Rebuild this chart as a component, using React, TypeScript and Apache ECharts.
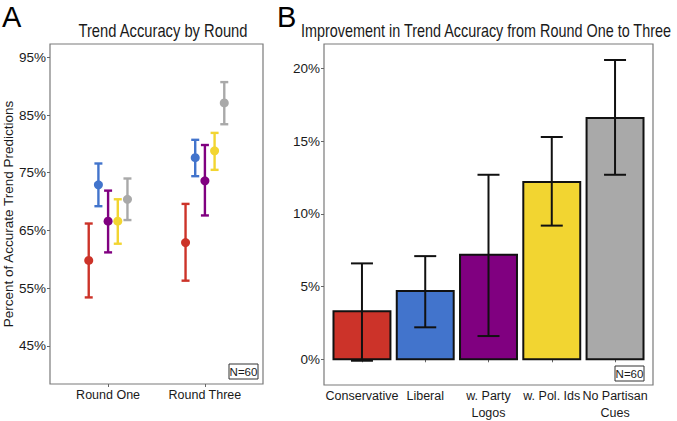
import React, { useEffect, useRef } from "react";
import * as echarts from "echarts";

const groups = ["Conservative", "Liberal", "w. Party Logos", "w. Pol. Ids", "No Partisan Cues"];
const groupLabelsB = ["Conservative", "Liberal", "w. Party\nLogos", "w. Pol. Ids", "No Partisan\nCues"];
const rounds = ["Round One", "Round Three"];
const colors = ["#CC3329", "#4274CC", "#800080", "#F2D531", "#A9A9A9"];

// Panel A: accuracy by round (per group: [Round One, Round Three])
const accMean = [
  [59.8, 62.9],
  [72.9, 77.6],
  [66.6, 73.6],
  [66.6, 78.8],
  [70.4, 87.1],
];
const accLow = [
  [53.4, 56.3],
  [69.2, 74.4],
  [61.2, 67.6],
  [62.7, 75.5],
  [66.8, 83.4],
];
const accHigh = [
  [66.2, 69.6],
  [76.6, 80.7],
  [71.9, 79.8],
  [70.4, 81.9],
  [74.0, 90.7],
];

// Panel B: improvement
const impMean = [3.3, 4.7, 7.2, 12.2, 16.6];
const impLow = [-0.1, 2.2, 1.6, 9.2, 12.7];
const impHigh = [6.6, 7.1, 12.7, 15.3, 20.6];

const ticksA = [45, 55, 65, 75, 85, 95];
const ticksB = [0, 5, 10, 15, 20];

const dodge = [-0.2, -0.1, 0, 0.1, 0.2];
const FONT = "'Liberation Sans',Arial,sans-serif";
const TXT = "#1a1a1a";

export default function App() {
  const ref = useRef<HTMLDivElement>(null);
  useEffect(() => {
    if (!ref.current) return;
    const chart = echarts.init(ref.current, null, { renderer: "svg" });

    const series: any[] = [];
    groups.forEach((g, i) => {
      series.push({
        type: "custom",
        name: g + " err",
        xAxisIndex: 0,
        yAxisIndex: 0,
        data: rounds.map((_, r) => [r + 1 + dodge[i], accLow[i][r], accHigh[i][r]]),
        encode: { x: 0, y: [1, 2] },
        renderItem: (params: any, api: any) => {
          const x = api.value(0);
          const lo = api.coord([x, api.value(1)]);
          const hi = api.coord([x, api.value(2)]);
          const hw = 4;
          const st = { stroke: colors[i], lineWidth: 2.4 };
          return {
            type: "group",
            children: [
              { type: "line", shape: { x1: lo[0], y1: lo[1], x2: hi[0], y2: hi[1] }, style: st },
              { type: "line", shape: { x1: lo[0] - hw, y1: lo[1], x2: lo[0] + hw, y2: lo[1] }, style: st },
              { type: "line", shape: { x1: hi[0] - hw, y1: hi[1], x2: hi[0] + hw, y2: hi[1] }, style: st },
            ],
          };
        },
        z: 2,
      });
      series.push({
        type: "scatter",
        name: g,
        xAxisIndex: 0,
        yAxisIndex: 0,
        data: rounds.map((_, r) => [r + 1 + dodge[i], accMean[i][r]]),
        symbolSize: 9,
        itemStyle: { color: colors[i], opacity: 1 },
        z: 3,
      });
    });

    series.push({
      type: "custom",
      name: "bars",
      xAxisIndex: 1,
      yAxisIndex: 1,
      data: groups.map((_, i) => [i + 1, impMean[i], impLow[i], impHigh[i]]),
      encode: { x: 0, y: [1, 2, 3] },
      renderItem: (params: any, api: any) => {
        const x = api.value(0);
        const i = params.dataIndex;
        const tl = api.coord([x - 0.45, api.value(1)]);
        const br = api.coord([x + 0.45, 0]);
        const lo = api.coord([x, api.value(2)]);
        const hi = api.coord([x, api.value(3)]);
        const hw = 11;
        const st = { stroke: "#111", lineWidth: 2 };
        return {
          type: "group",
          children: [
            {
              type: "rect",
              shape: { x: tl[0], y: tl[1], width: br[0] - tl[0], height: br[1] - tl[1] },
              style: { fill: colors[i], stroke: "#111", lineWidth: 2 },
            },
            { type: "line", shape: { x1: lo[0], y1: lo[1], x2: hi[0], y2: hi[1] }, style: st },
            { type: "line", shape: { x1: lo[0] - hw, y1: lo[1], x2: lo[0] + hw, y2: lo[1] }, style: st },
            { type: "line", shape: { x1: hi[0] - hw, y1: hi[1], x2: hi[0] + hw, y2: hi[1] }, style: st },
          ],
        };
      },
    });

    const axisTick = { show: true, length: 3, lineStyle: { color: "#666", width: 1 } };
    const xLabelBase = {
      color: TXT,
      fontFamily: FONT,
      fontSize: 12.5,
      lineHeight: 16.5,
      margin: 3,
      hideOverlap: false,
      showMinLabel: true,
      showMaxLabel: true,
      interval: 0,
    };

    chart.setOption({
      animation: false,
      textStyle: { fontFamily: FONT },
      grid: [
        { left: 49, top: 44, width: 214, height: 340, show: true, borderColor: "#7a7a7a", borderWidth: 1.2, backgroundColor: "#fff" },
        { left: 324, top: 44, width: 329, height: 341, show: true, borderColor: "#7a7a7a", borderWidth: 1.2, backgroundColor: "#fff" },
      ],
      xAxis: [
        {
          type: "value",
          gridIndex: 0,
          min: 0.4,
          max: 2.6,
          axisLine: { show: false },
          splitLine: { show: false },
          axisTick: { ...axisTick, customValues: [1, 2] },
          axisLabel: {
            ...xLabelBase,
            customValues: [1, 2],
            formatter: (v: number) => rounds[Math.round(v) - 1] ?? "",
          },
        },
        {
          type: "value",
          gridIndex: 1,
          min: 0.4,
          max: 5.6,
          axisLine: { show: false },
          splitLine: { show: false },
          axisTick: { ...axisTick, customValues: [1, 2, 3, 4, 5] },
          axisLabel: {
            ...xLabelBase,
            customValues: [1, 2, 3, 4, 5],
            formatter: (v: number) => groupLabelsB[Math.round(v) - 1] ?? "",
          },
        },
      ],
      yAxis: [
        {
          type: "value",
          gridIndex: 0,
          min: 38.4,
          max: 97.3,
          axisLine: { show: false },
          splitLine: { show: false },
          axisTick: { ...axisTick, customValues: ticksA },
          axisLabel: {
            customValues: ticksA,
            formatter: (v: number) => v + "%",
            color: TXT,
            fontFamily: FONT,
            fontSize: 13.5,
            margin: 4,
          },
          name: "Percent of Accurate Trend Predictions",
          nameLocation: "middle",
          nameGap: 35,
          nameTextStyle: { color: TXT, fontFamily: FONT, fontSize: 13.5 },
        },
        {
          type: "value",
          gridIndex: 1,
          min: -1.77,
          max: 21.7,
          axisLine: { show: false },
          splitLine: { show: false },
          axisTick: { ...axisTick, customValues: ticksB },
          axisLabel: {
            customValues: ticksB,
            formatter: (v: number) => v + "%",
            color: TXT,
            fontFamily: FONT,
            fontSize: 13.5,
            margin: 4,
          },
        },
      ],
      graphic: [
        { type: "text", x: 2, y: 17, style: { text: "A", fontFamily: FONT, fontSize: 29, fill: "#000", textVerticalAlign: "middle" } },
        { type: "text", x: 277, y: 17, style: { text: "B", fontFamily: FONT, fontSize: 29, fill: "#000", textVerticalAlign: "middle" } },
        { type: "text", x: 163, y: 30, scaleX: 0.82, style: { text: "Trend Accuracy by Round", fontFamily: FONT, fontSize: 18, fill: TXT, textAlign: "center", textVerticalAlign: "middle" } },
        { type: "text", x: 486, y: 30, scaleX: 0.8, style: { text: "Improvement in Trend Accuracy from Round One to Three", fontFamily: FONT, fontSize: 18, fill: TXT, textAlign: "center", textVerticalAlign: "middle" } },
        { type: "rect", shape: { x: 229, y: 364, width: 29, height: 15 }, style: { fill: "#fff", stroke: "#333", lineWidth: 1 }, z: 10 },
        { type: "text", x: 243.5, y: 371.5, style: { text: "N=60", fontFamily: FONT, fontSize: 11.5, fill: TXT, textAlign: "center", textVerticalAlign: "middle" }, z: 11 },
        { type: "rect", shape: { x: 615, y: 366, width: 29, height: 15 }, style: { fill: "#fff", stroke: "#333", lineWidth: 1 }, z: 10 },
        { type: "text", x: 629.5, y: 373.5, style: { text: "N=60", fontFamily: FONT, fontSize: 11.5, fill: TXT, textAlign: "center", textVerticalAlign: "middle" }, z: 11 },
      ],
      series,
    });
    return () => chart.dispose();
  }, []);
  return <div ref={ref} style={{ position: "fixed", left: 0, top: 0, width: 677, height: 421, background: "#fff" }} />;
}
